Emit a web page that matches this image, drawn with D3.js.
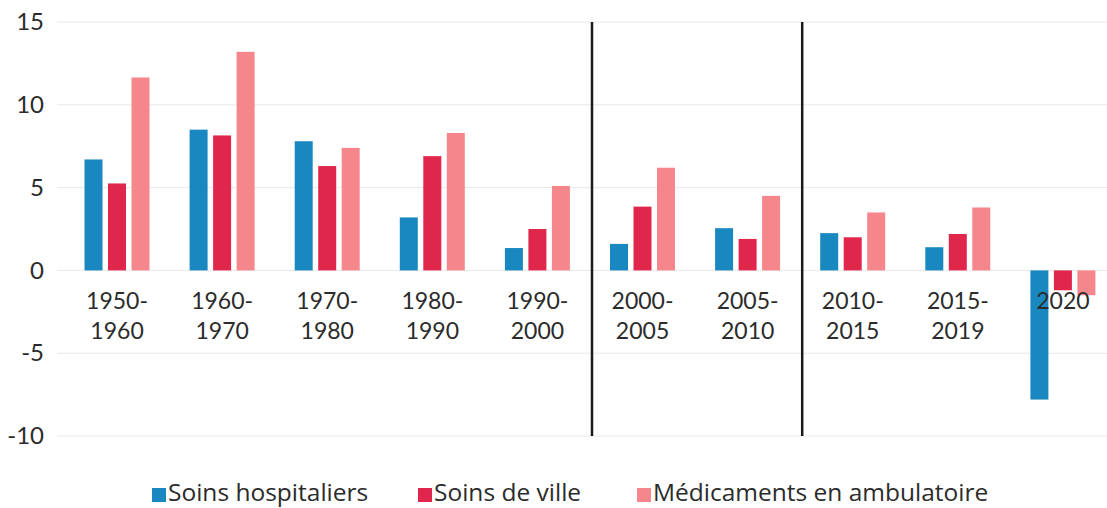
<!DOCTYPE html>
<html>
<head>
<meta charset="utf-8">
<script src="https://cdn.jsdelivr.net/npm/d3@7"></script>
<style>
  body { margin: 0; background: #fff; }
  svg { display: block; font-family: Lato, "DejaVu Sans", sans-serif; }
</style>
</head>
<body>
<svg id="chart" width="1107" height="508"></svg>
<script>
// periods on the x axis (two-line labels split at the hyphen)
const periods = ["1950-1960", "1960-1970", "1970-1980", "1980-1990", "1990-2000",
  "2000-2005", "2005-2010", "2010-2015", "2015-2019", "2020"];
const seriesNames = ["Soins hospitaliers", "Soins de ville", "Médicaments en ambulatoire"];
const hospital = [6.7, 8.5, 7.8, 3.2, 1.35, 1.6, 2.55, 2.25, 1.4, -7.8];
const ville = [5.25, 8.15, 6.3, 6.9, 2.5, 3.85, 1.9, 2.0, 2.2, -1.2];
const medic = [11.65, 13.2, 7.4, 8.3, 5.1, 6.2, 4.5, 3.5, 3.8, -1.5];
const yTicks = [-10, -5, 0, 5, 10, 15];
const separatorsBefore = ["2000-2005", "2010-2015"];
const colors = ["#1a88c0", "#e0264b", "#f5878c"];

const svg = d3.select("#chart");
const values = [hospital, ville, medic];

const x = d3.scaleBand().domain(periods).range([64.5, 1115.5]);
const x1 = d3.scaleBand().domain(seriesNames).range([20, 85]).paddingInner(0.234);
const y = d3.scaleLinear().domain([-10, 15]).range([436, 22]);

// gridlines
svg.append("g").selectAll("line").data(yTicks).join("line")
  .attr("x1", 57).attr("x2", 1107)
  .attr("y1", d => y(d)).attr("y2", d => y(d))
  .attr("stroke", "#e8e8e8").attr("stroke-width", 1);

// y axis labels (plain hyphen for negatives, like the source)
const yAxis = svg.append("g")
  .attr("transform", "translate(44,0)")
  .call(d3.axisLeft(y).tickValues(yTicks).tickSize(0).tickPadding(0).tickFormat(d => String(d)));
yAxis.select(".domain").remove();
yAxis.selectAll("text").style("font-size", "24px").style("font-family", "Lato").attr("fill", "#2b2b2b");

// bars
const bars = svg.append("g");
seriesNames.forEach((s, si) => {
  bars.append("g").selectAll("rect").data(periods).join("rect")
    .attr("x", (p) => x(p) + x1(s))
    .attr("width", x1.bandwidth())
    .attr("y", (p, i) => y(Math.max(0, values[si][i])))
    .attr("height", (p, i) => Math.abs(y(values[si][i]) - y(0)))
    .attr("fill", colors[si]);
});

// separators
svg.append("g").selectAll("line").data(separatorsBefore).join("line")
  .attr("x1", d => x(d) + 2).attr("x2", d => x(d) + 2)
  .attr("y1", y(15)).attr("y2", y(-10))
  .attr("stroke", "#1a1a1a").attr("stroke-width", 2.5);

// x labels
const labels = svg.append("g").selectAll("text").data(periods).join("text")
  .attr("text-anchor", "middle")
  .attr("fill", "#2b2b2b")
  .style("font-size", "23px");
labels.each(function (p) {
  const parts = p.includes("-") ? [p.split("-")[0] + "-", p.split("-")[1]] : [p];
  const t = d3.select(this);
  parts.forEach((line, li) => {
    t.append("tspan")
      .attr("x", x(p) + x.bandwidth() / 2)
      .attr("y", 309 + li * 30)
      .text(line);
  });
});

// legend
const legendX = [152, 418, 637];
const legend = svg.append("g").selectAll("g").data(seriesNames).join("g")
  .attr("transform", (d, i) => `translate(${legendX[i]},0)`);
legend.append("rect").attr("x", 0).attr("y", 488).attr("width", 14).attr("height", 14)
  .attr("fill", (d, i) => colors[i]);
legend.append("text").attr("x", 16).attr("y", 501)
  .attr("fill", "#2b2b2b").style("font-size", "24.5px").style("font-family", "Open Sans")
  .text(d => d);
</script>
</body>
</html>
